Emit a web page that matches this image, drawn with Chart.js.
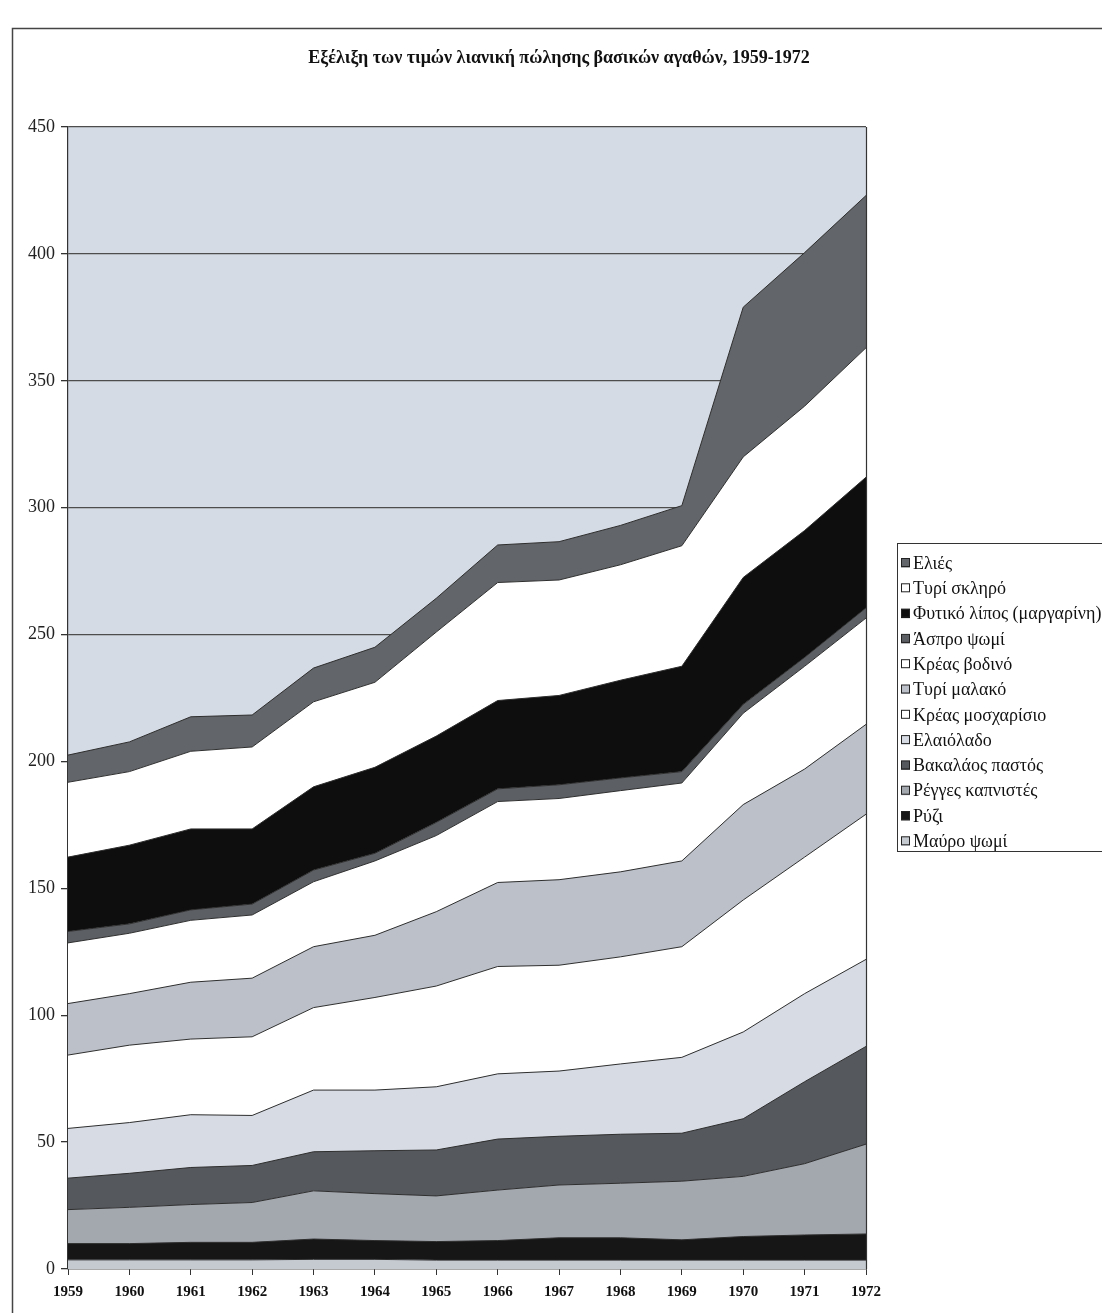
<!DOCTYPE html>
<html>
<head>
<meta charset="utf-8">
<script src="https://cdn.jsdelivr.net/npm/chart.js@4.4.0/dist/chart.umd.min.js"></script>
<style>
html,body{margin:0;padding:0;background:#fff;}
#wrap{width:1102px;height:1313px;position:relative;}
canvas{display:block;}
</style>
</head>
<body>
<div id="wrap"><canvas id="c" width="1102" height="1313"></canvas></div>
<script>
// ---- data ----
const years = ['1959','1960','1961','1962','1963','1964','1965','1966','1967','1968','1969','1970','1971','1972'];
const yTicks = [0,50,100,150,200,250,300,350,400,450];
const chartTitle = 'Εξέλιξη των τιμών λιανική πώλησης βασικών αγαθών, 1959-1972';

// series, bottom of the stack first
const mavroPsomi      = [3.6,3.6,3.6,3.6,3.8,3.8,3.5,3.5,3.5,3.5,3.5,3.5,3.5,3.5];
const ryzi            = [6.4,6.4,6.9,6.9,8.0,7.4,7.3,7.7,8.8,8.8,8.0,9.3,9.9,10.3];
const regges          = [13.4,14.3,14.9,15.7,19.0,18.5,18.0,19.9,20.8,21.5,23.1,23.7,28.1,35.4];
const bakalaos        = [12.4,13.4,14.6,14.6,15.4,16.9,18.1,20.1,19.2,19.3,18.9,22.7,32.3,38.5];
const elaiolado       = [19.6,20.0,20.8,19.7,24.3,23.9,24.9,25.7,25.7,27.7,29.9,34.2,34.7,34.3];
const kreasMosxari    = [28.9,30.5,29.8,31.0,32.5,36.5,39.7,42.3,41.7,42.2,43.6,52.0,53.8,57.2];
const tyriMalako      = [20.3,20.3,22.4,23.1,24.0,24.5,29.3,33.1,33.7,33.5,33.8,37.6,34.7,35.4];
const kreasVodino     = [23.9,23.8,24.4,24.9,25.6,29.3,30.0,31.9,32.0,32.0,30.7,36.0,40.5,41.9];
const asproPsomi      = [4.5,3.7,4.1,4.3,4.6,3.0,5.2,5.0,5.4,5.0,4.5,3.5,3.5,4.0];
const fytikoLipos     = [29.3,31.0,31.9,29.6,32.8,33.9,34.0,34.8,35.2,38.5,41.5,50.0,50.0,51.5];
const tyriSklero      = [29.5,29.0,30.6,32.3,33.5,33.5,41.0,46.5,45.5,45.5,47.5,47.5,49.0,51.0];
const elies           = [10.7,11.7,13.6,12.6,13.3,13.8,13.3,14.8,15.1,15.5,15.8,59.0,60.5,60.0];

const seriesNames = ['Μαύρο ψωμί','Ρύζι','Ρέγγες καπνιστές','Βακαλάος παστός','Ελαιόλαδο','Κρέας μοσχαρίσιο','Τυρί μαλακό','Κρέας βοδινό','Άσπρο ψωμί','Φυτικό λίπος (μαργαρίνη)','Τυρί σκληρό','Ελιές'];
const seriesValues = [mavroPsomi,ryzi,regges,bakalaos,elaiolado,kreasMosxari,tyriMalako,kreasVodino,asproPsomi,fytikoLipos,tyriSklero,elies];

// ---- styles ----
const fills = ['#c5cad1','#161616','#a3a7ae','#55585d','#d7dce4','#ffffff','#bcc1c9','#ffffff','#5c5f64','#0e0e0e','#ffffff','#626569'];
const SERIF = '"Liberation Serif","Times New Roman",serif';
const PLOT_BG = '#d5dbe5';

const datasets = seriesNames.map((name, i) => ({
  label: name,
  data: seriesValues[i],
  backgroundColor: fills[i],
  borderColor: '#2e2e2e',
  borderWidth: 1,
  fill: i === 0 ? 'origin' : '-1',
  pointRadius: 0,
  pointHoverRadius: 0,
  tension: 0
}));

const decor = {
  id: 'decor',
  beforeDraw(chart) {
    const {ctx, chartArea: a} = chart;
    ctx.save();
    ctx.fillStyle = '#ffffff';
    ctx.fillRect(0, 0, chart.width, chart.height);
    ctx.fillStyle = PLOT_BG;
    ctx.fillRect(a.left, a.top, a.right - a.left, a.bottom - a.top);
    ctx.restore();
  },
  afterDraw(chart) {
    const {ctx, chartArea: a} = chart;
    ctx.save();
    // outer frame
    ctx.strokeStyle = '#444';
    ctx.lineWidth = 1.5;
    ctx.beginPath();
    ctx.moveTo(12.5, chart.height);
    ctx.lineTo(12.5, 28.5);
    ctx.lineTo(chart.width, 28.5);
    ctx.stroke();
    // plot right border
    ctx.strokeStyle = '#333';
    ctx.lineWidth = 1.2;
    ctx.beginPath();
    ctx.moveTo(a.right + 0.5, a.top);
    ctx.lineTo(a.right + 0.5, a.bottom);
    ctx.stroke();
    // title
    ctx.fillStyle = '#111';
    ctx.font = 'bold 18px ' + SERIF;
    ctx.textAlign = 'center';
    ctx.textBaseline = 'middle';
    ctx.fillText(chartTitle, 559, 58);
    // legend
    const lx = 897, ly = 543, lw = 215, lh = 308;
    ctx.fillStyle = '#fff';
    ctx.fillRect(lx, ly, lw, lh);
    ctx.strokeStyle = '#333';
    ctx.lineWidth = 1;
    ctx.strokeRect(lx + 0.5, ly + 0.5, lw, lh);
    const ds = chart.data.datasets.slice().reverse();
    ctx.font = '18px ' + SERIF;
    ctx.textAlign = 'left';
    ds.forEach((d, i) => {
      const cy = 563 + i * 25.3;
      ctx.fillStyle = d.backgroundColor;
      ctx.fillRect(901, cy - 4.5, 9, 9);
      ctx.strokeStyle = '#222';
      ctx.lineWidth = 1;
      ctx.strokeRect(901.5, cy - 4.5, 8, 8);
      ctx.fillStyle = '#111';
      ctx.fillText(d.label, 913, cy + 1);
    });
    ctx.restore();
  }
};

new Chart(document.getElementById('c'), {
  type: 'line',
  data: { labels: years, datasets },
  options: {
    responsive: false,
    animation: false,
    devicePixelRatio: 1,
    layout: { padding: { top: 127, right: 236, bottom: 0, left: 0 } },
    plugins: {
      legend: { display: false },
      title: { display: false },
      tooltip: { enabled: false }
    },
    elements: { line: { borderJoinStyle: 'miter' } },
    scales: {
      x: {
        offset: false,
        afterFit(s) { s.height = 44; },
        grid: { drawOnChartArea: false, drawTicks: true, tickLength: 6, color: '#333', tickColor: '#333' },
        border: { display: true, color: '#333', width: 1.2 },
        ticks: { color: '#111', font: { family: SERIF, size: 15, weight: 'bold' }, padding: 8, maxRotation: 0, autoSkip: false }
      },
      y: {
        stacked: true,
        min: 0,
        max: 450,
        afterFit(s) { s.width = 68; },
        afterBuildTicks(s) { s.ticks = yTicks.map(v => ({ value: v })); },
        grid: { drawOnChartArea: true, color: '#4d4d4d', lineWidth: 1.3, tickLength: 7, tickColor: '#333' },
        border: { display: true, color: '#333', width: 1.2 },
        ticks: { color: '#222', font: { family: SERIF, size: 18 }, padding: 6 }
      }
    }
  },
  plugins: [decor]
});
</script>
</body>
</html>
